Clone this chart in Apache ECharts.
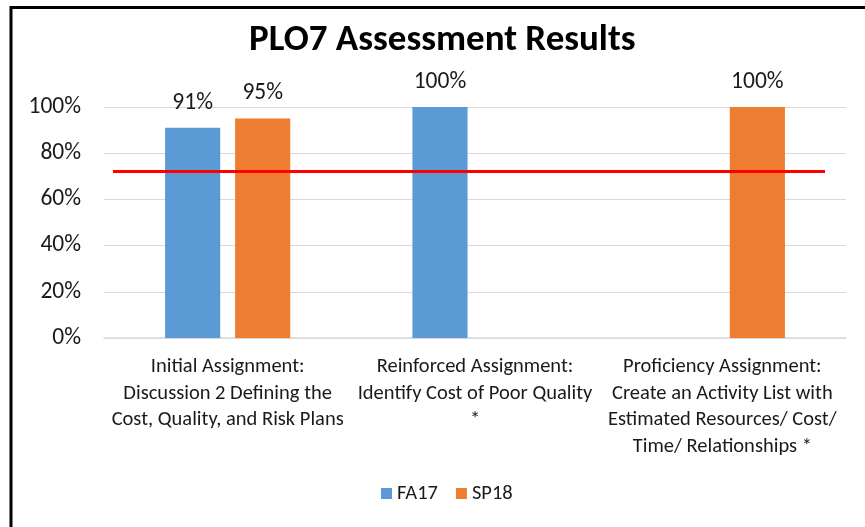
<!DOCTYPE html>
<html>
<head>
    <meta charset="utf-8">
    <title>PLO7 Assessment Results</title>
    <style>
        html, body { margin: 0; padding: 0; background: #fff; }
        #container { width: 865px; height: 527px; }
    </style>
</head>
<body>
    <div id="container"></div>
    <script src="https://cdn.jsdelivr.net/npm/echarts@6/dist/echarts.min.js"></script>
    <script type="text/javascript">
        // categories (line breaks as in the original)
        var categories = [
            'Initial Assignment:\nDiscussion 2 Defining the\nCost, Quality, and Risk Plans',
            'Reinforced Assignment:\nIdentify Cost of Poor Quality\n*',
            'Proficiency Assignment:\nCreate an Activity List with\nEstimated Resources/ Cost/\nTime/ Relationships *'
        ];
        var fa17 = [91, 100, '-'];
        var sp18 = [95, '-', 100];
        var target = 72;   // red benchmark line
        var yTicks = { min: 0, max: 100, interval: 20 };

        var font = 'Carlito, Lato, sans-serif';
        var textColor = '#1a1a1a';

        var labelOpt = {
            show: true,
            position: 'top',
            distance: 13,
            fontFamily: font,
            fontSize: 23.5,
            color: textColor,
            formatter: '{c}%'
        };

        var myChart = echarts.init(document.getElementById('container'));
        var option = {
            animation: false,
            title: {
                text: 'PLO7 Assessment Results',
                left: 244,
                top: 17,
                textStyle: {
                    fontFamily: font,
                    fontSize: 37,
                    fontWeight: 'bold',
                    color: '#000'
                }
            },
            legend: {
                bottom: 18,
                left: 376,
                itemWidth: 11,
                itemHeight: 11,
                itemGap: 18,
                icon: 'rect',
                textStyle: { fontFamily: font, fontSize: 20.5, color: textColor },
                data: ['FA17', 'SP18']
            },
            grid: {
                left: 104,
                right: 19,
                top: 107,
                bottom: 189
            },
            xAxis: {
                type: 'category',
                data: categories,
                axisTick: { show: false },
                axisLine: { lineStyle: { color: '#d9d9d9', width: 1.5 } },
                axisLabel: {
                    interval: 0,
                    margin: 16,
                    fontFamily: font,
                    fontSize: 20.5,
                    lineHeight: 26.5,
                    color: textColor,
                    align: 'center'
                }
            },
            yAxis: {
                type: 'value',
                min: yTicks.min,
                max: yTicks.max,
                interval: yTicks.interval,
                axisLine: { show: false },
                axisTick: { show: false },
                splitLine: { lineStyle: { color: '#d9d9d9', width: 1 } },
                axisLabel: {
                    margin: 23,
                    fontFamily: font,
                    fontSize: 23.5,
                    color: textColor,
                    formatter: '{value}%'
                }
            },
            graphic: [{
                type: 'rect',
                silent: true,
                shape: { x: 11, y: 7.5, width: 1000, height: 700 },
                style: { fill: 'none', stroke: '#000', lineWidth: 3 }
            }],
            series: [{
                name: 'FA17',
                type: 'bar',
                data: fa17,
                barWidth: '22.3%',
                barGap: '27%',
                itemStyle: { color: '#5b9bd5' },
                label: labelOpt,
                markLine: {
                    silent: true,
                    symbol: 'none',
                    label: { show: false },
                    lineStyle: { color: '#ff0000', width: 3, type: 'solid' },
                    data: [[{ x: 113, yAxis: target }, { x: 825, yAxis: target }]]
                }
            }, {
                name: 'SP18',
                type: 'bar',
                data: sp18,
                barWidth: '22.3%',
                itemStyle: { color: '#ed7d31' },
                label: labelOpt
            }]
        };
        myChart.setOption(option);
    </script>
</body>
</html>
